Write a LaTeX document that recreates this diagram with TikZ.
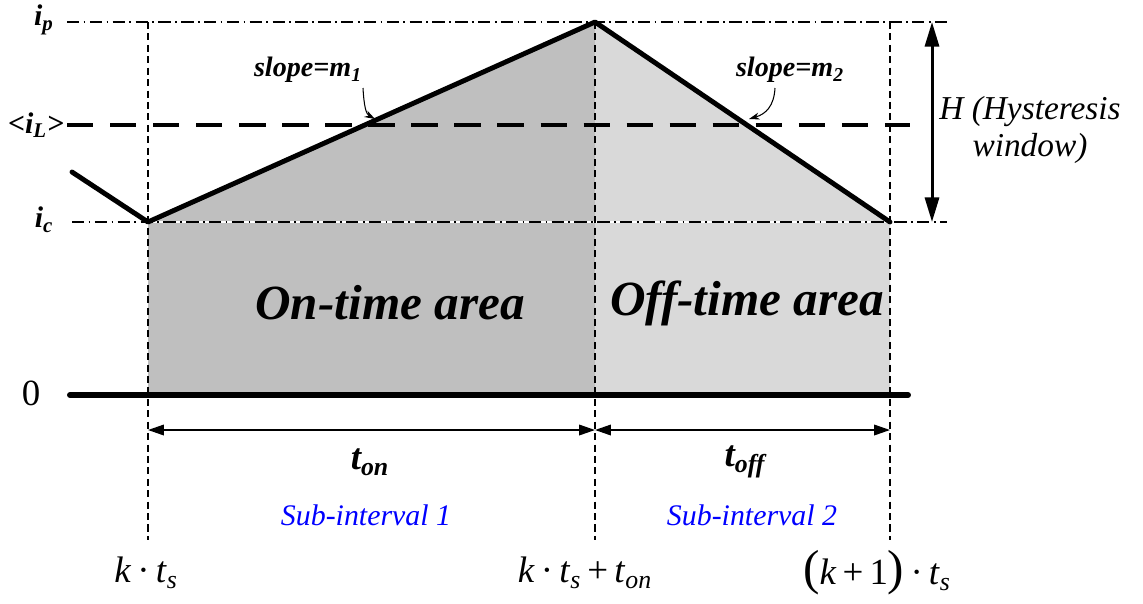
\documentclass[tikz,border=0pt]{standalone}
\usepackage{fontspec}
\setmainfont{Liberation Serif}
\usepackage{xcolor}
\usetikzlibrary{arrows.meta, positioning}
\definecolor{onfill}{HTML}{BFBFBF}
\definecolor{offfill}{HTML}{D9D9D9}
\tikzset{
  wave/.style={line width=2.8pt, line cap=round, line join=round},
  level/.style={line width=0.8pt, dash pattern=on 7pt off 2.5pt on 1pt off 2.5pt},
  avgline/.style={line width=2pt, dash pattern=on 15pt off 9.5pt},
  tickline/.style={line width=0.8pt, dash pattern=on 4pt off 2.5pt},
  dimarrow/.style={{Triangle[length=9pt,width=6pt]}-{Triangle[length=9pt,width=6pt]}, line width=0.9pt},
  harrow/.style={{Triangle[length=14pt,width=8pt]}-{Triangle[length=14pt,width=8pt]}, line width=1.7pt},
  bendarrow/.style={-{Stealth[length=6pt,width=4pt]}, line width=0.6pt},
  lvllabel/.style={font=\fontsize{17}{17}\selectfont\bfseries\itshape},
  slopelabel/.style={font=\fontsize{16}{16}\selectfont\bfseries\itshape},
  arealabel/.style={font=\fontsize{28}{28}\selectfont\bfseries\itshape},
  durlabel/.style={font=\fontsize{21}{21}\selectfont\bfseries\itshape},
  sublabel/.style={font=\fontsize{17}{17}\selectfont\itshape, text=blue},
  timelabel/.style={font=\fontsize{21}{21}\selectfont}
}
\begin{document}
\begin{tikzpicture}[x=0.02cm, y=-0.02cm]
  \useasboundingbox (0,0) rectangle (1143,603);
  \coordinate (c0) at (72,172);
  \coordinate (c1) at (148,222);
  \coordinate (c2) at (595,22);
  \coordinate (c3) at (890,222);
  \coordinate (z0) at (70,395);
  \coordinate (z1) at (908,395);
  \coordinate (d0) at (148,430);
  \coordinate (d1) at (595,430);
  \coordinate (d2) at (890,430);
  \coordinate (hi) at (932,22);
  \coordinate (lo) at (932,222);

  \fill[onfill] (148,395) -- (c1) -- (c2) -- (595,395) -- cycle;
  \fill[offfill] (595,395) -- (c2) -- (c3) -- (890,395) -- cycle;
  \draw[white, line width=0.6pt] (c1) -- (c3);

  \draw[level] (67,22) -- (947,22);
  \draw[level] (72,222) -- (947,222);
  \draw[tickline] (148,22) -- (148,540);
  \draw[tickline] (595,22) -- (595,540);
  \draw[tickline] (890,22) -- (890,540);
  \draw[avgline] (67,125) -- (910,125);

  \draw[wave] (c0) -- (c1) -- (c2) -- (c3);
  \draw[wave, line width=3.4pt] (z0) -- (z1);

  \draw[harrow] (hi) -- (lo);
  \draw[dimarrow] (d0) -- (d1);
  \draw[dimarrow] (d1) -- (d2);

  \node[lvllabel] (ip) at (44,20) {i\textsubscript{p}};
  \node[lvllabel] (il) at (36,125) {<i\textsubscript{L}>};
  \node[lvllabel] (ic) at (44,220) {i\textsubscript{c}};
  \node[timelabel] (zero) at (31,393) {0};

  \node[slopelabel] (m1) at (308,70) {slope=m\textsubscript{1}};
  \node[slopelabel] (m2) at (790,70) {slope=m\textsubscript{2}};
  \draw[bendarrow] (363,88) .. controls (364,106) and (366,114) .. (375,119);
  \draw[bendarrow] (775,88) .. controls (774,106) and (766,114) .. (749,119);

  \node[align=center, font=\fontsize{19}{21.5}\selectfont\itshape] (hlabel) at (1030,130)
    {H (Hysteresis\\window)};

  \node[arealabel] (onarea) at (390,303) {On-time area};
  \node[arealabel] (offarea) at (747,303) {Off-time area};

  \node[durlabel] (ton) at (370,462) {t\textsubscript{on}};
  \node[durlabel] (toff) at (745,462) {t\textsubscript{off}};
  \node[sublabel] (sub1) at (366,515) {Sub-interval 1};
  \node[sublabel] (sub2) at (752,515) {Sub-interval 2};

  \node[timelabel] (t0) at (146,573) {\textit{k}\,·\,\textit{t}\textsubscript{\textit{s}}};
  \node[timelabel] (t1) at (585,573)
    {\textit{k}\,·\,\textit{t}\textsubscript{\textit{s}}\,+\,\textit{t}\textsubscript{\textit{on}}};
  \node[timelabel] (t2) at (877,573)
    {{\fontsize{28}{28}\selectfont(}\textit{k}\,+\,1{\fontsize{28}{28}\selectfont)}\,·\,\textit{t}\textsubscript{\textit{s}}};
\end{tikzpicture}
\end{document}
